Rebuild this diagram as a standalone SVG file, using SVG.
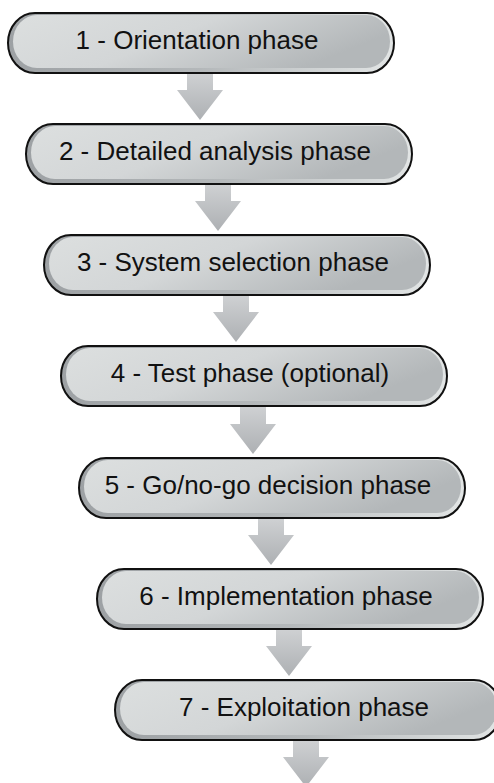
<svg xmlns="http://www.w3.org/2000/svg" width="494" height="783" viewBox="0 0 494 783">
<defs>
<linearGradient id="gOuter" x1="0" y1="0" x2="1" y2="0">
<stop offset="0" stop-color="#9da1a4"/>
<stop offset="0.5" stop-color="#b4b8ba"/>
<stop offset="1" stop-color="#e2e5e5"/>
</linearGradient>
<linearGradient id="gInner" x1="0" y1="0" x2="1" y2="0.35">
<stop offset="0" stop-color="#dcdfdf"/>
<stop offset="0.5" stop-color="#d3d6d7"/>
<stop offset="1" stop-color="#b3b7b9"/>
</linearGradient>
<linearGradient id="gArrow" x1="0" y1="0" x2="0" y2="1">
<stop offset="0" stop-color="#cfd1d3"/>
<stop offset="1" stop-color="#adb0b3"/>
</linearGradient>
</defs>
<style>
.outer{fill:url(#gOuter);stroke:#111;stroke-width:2}
.inner{fill:url(#gInner)}
.arrow{fill:url(#gArrow)}
.label{font-family:"Liberation Sans",Arial,sans-serif;font-size:26px;fill:#111;text-anchor:middle}
</style>
<g id="connectors">
<polygon class="arrow" points="187,73 213,73 213,90 223,90 200,120 177,90 187,90"/>
<polygon class="arrow" points="205,184 231,184 231,201 241,201 218,231 195,201 205,201"/>
<polygon class="arrow" points="223,295 249,295 249,312 259,312 236,342 213,312 223,312"/>
<polygon class="arrow" points="240,406 266,406 266,424 276,424 253,454 230,424 240,424"/>
<polygon class="arrow" points="258,518 284,518 284,535 294,535 271,565 248,535 258,535"/>
<polygon class="arrow" points="276,629 302,629 302,646 312,646 289,676 266,646 276,646"/>
<polygon class="arrow" points="293,740 319,740 319,757 329,757 306,787 283,757 293,757"/>
</g>
<g id="node1">
<rect class="outer" x="8" y="13" width="386" height="60" rx="27" ry="30"/>
<rect class="inner" x="13" y="15" width="377" height="53" rx="24" ry="26.5"/>
<text class="label" x="197" y="49">1 - Orientation phase</text>
</g>
<g id="node2">
<rect class="outer" x="26" y="124" width="386" height="60" rx="27" ry="30"/>
<rect class="inner" x="31" y="126" width="377" height="53" rx="24" ry="26.5"/>
<text class="label" x="215" y="160">2 - Detailed analysis phase</text>
</g>
<g id="node3">
<rect class="outer" x="44" y="235" width="386" height="60" rx="27" ry="30"/>
<rect class="inner" x="49" y="237" width="377" height="53" rx="24" ry="26.5"/>
<text class="label" x="233" y="271">3 - System selection phase</text>
</g>
<g id="node4">
<rect class="outer" x="61" y="346" width="386" height="60" rx="27" ry="30"/>
<rect class="inner" x="66" y="348" width="377" height="53" rx="24" ry="26.5"/>
<text class="label" x="250" y="382">4 - Test phase (optional)</text>
</g>
<g id="node5">
<rect class="outer" x="79" y="458" width="386" height="60" rx="27" ry="30"/>
<rect class="inner" x="84" y="460" width="377" height="53" rx="24" ry="26.5"/>
<text class="label" x="268" y="494">5 - Go/no-go decision phase</text>
</g>
<g id="node6">
<rect class="outer" x="97" y="569" width="386" height="60" rx="27" ry="30"/>
<rect class="inner" x="102" y="571" width="377" height="53" rx="24" ry="26.5"/>
<text class="label" x="286" y="605">6 - Implementation phase</text>
</g>
<g id="node7">
<rect class="outer" x="115" y="680" width="386" height="60" rx="27" ry="30"/>
<rect class="inner" x="120" y="682" width="377" height="53" rx="24" ry="26.5"/>
<text class="label" x="304" y="716">7 - Exploitation phase</text>
</g>
</svg>
